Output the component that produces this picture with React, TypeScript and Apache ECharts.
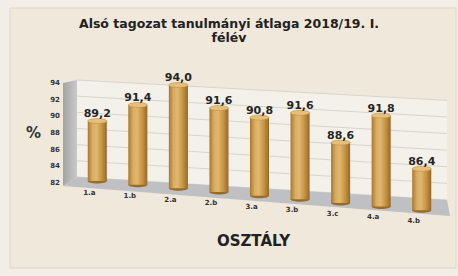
import React, { useEffect, useRef } from "react";
import * as echarts from "echarts";

const titleText = "Alsó tagozat tanulmányi átlaga 2018/19. I.\nfélév";
const categories = ["1.a", "1.b", "2.a", "2.b", "3.a", "3.b", "3.c", "4.a", "4.b"];
const values = [89.2, 91.4, 94.0, 91.6, 90.8, 91.6, 88.6, 91.8, 86.4];
const yTicks = [82, 84, 86, 88, 90, 92, 94];
const yName = "%";
const xName = "OSZTÁLY";

const FONT = "DejaVu Sans";
const Y_MIN = yTicks[0];
const Y_MAX = yTicks[yTicks.length - 1];

const fmt = (v: number) => v.toFixed(1).replace(".", ",");

export default function App() {
  const ref = useRef<HTMLDivElement>(null);
  useEffect(() => {
    if (!ref.current) return;
    const chart = echarts.init(ref.current, null, { renderer: "svg" });

    const rich: Record<string, any> = {};
    categories.forEach((_, i) => {
      rich["a" + i] = {
        fontSize: 7,
        fontWeight: "bold",
        color: "#333",
        fontFamily: FONT,
        padding: [3.5 * i, 16, 0, 0],
      };
    });

    const renderBackdrop = (params: any, api: any) => {
      const cs = params.coordSys;
      const x0 = cs.x;
      const x1 = cs.x + cs.width + 5;
      const topL = api.coord([0, Y_MAX])[1] - 3;
      const botL = api.coord([0, Y_MIN])[1] - 6;
      const topR = topL + 0.055 * (x1 - x0);
      const botR = botL + 0.062 * (x1 - x0);
      const children: any[] = [];
      children.push({
        type: "polygon",
        shape: { points: [[x0, topL], [x1, topR], [x1, botR], [x0, botL]] },
        style: { fill: "#f4f1eb" },
      });
      yTicks.forEach((t) => {
        const f = (t - Y_MIN) / (Y_MAX - Y_MIN);
        const yl = botL + (topL - botL) * f;
        const yr = botR + (topR - botR) * f;
        children.push({
          type: "line",
          shape: { x1: x0, y1: yl, x2: x1, y2: yr },
          style: { stroke: "#d8d5cf", lineWidth: 1 },
        });
      });
      children.push({
        type: "polygon",
        shape: { points: [[x0 - 14, topL + 3], [x0, topL], [x0, botL], [x0 - 14, botL + 9]] },
        style: {
          fill: {
            type: "linear", x: 0, y: 0, x2: 1, y2: 0,
            colorStops: [
              { offset: 0, color: "#a4a4a4" },
              { offset: 1, color: "#c9c9c9" },
            ],
          },
        },
      });
      children.push({
        type: "polygon",
        shape: { points: [[x0, botL], [x1, botR], [x1 + 3, botR + 16], [x0 - 14, botL + 9]] },
        style: { fill: "#bfc0c4" },
      });
      return { type: "group", children };
    };

    const renderBar = (params: any, api: any) => {
      const cs = params.coordSys;
      const i = api.value(0);
      const v = api.value(1);
      const p0 = api.coord([i, Y_MIN]);
      const p1 = api.coord([i, v]);
      const rel = p0[0] - (cs.x + 20);
      const baseY = p0[1] - 2 + 0.09 * rel;
      const scale = 1 + 0.0004 * rel;
      const h = (p0[1] - p1[1]) * scale;
      const w = api.size([1, 0])[0] * 0.47;
      const cx = p0[0];
      const topY = baseY - h;
      return {
        type: "group",
        children: [
          {
            type: "ellipse",
            shape: { cx, cy: baseY, rx: w / 2, ry: 2.5 },
            style: { fill: "#9a6a26" },
          },
          {
            type: "rect",
            shape: { x: cx - w / 2, y: topY, width: w, height: h },
            style: {
              fill: {
                type: "linear", x: 0, y: 0, x2: 1, y2: 0,
                colorStops: [
                  { offset: 0, color: "#a8782e" },
                  { offset: 0.25, color: "#d9ad62" },
                  { offset: 0.45, color: "#e0b870" },
                  { offset: 0.75, color: "#c4913f" },
                  { offset: 1, color: "#96672a" },
                ],
              },
            },
          },
          {
            type: "ellipse",
            shape: { cx, cy: topY, rx: w / 2, ry: 2.5 },
            style: { fill: "#e6c07a", stroke: "#b48640", lineWidth: 0.5 },
          },
          {
            type: "text",
            style: {
              text: fmt(v),
              x: cx,
              y: topY - 2,
              align: "center",
              verticalAlign: "bottom",
              fontSize: 11,
              fontWeight: "bold",
              fill: "#262626",
              fontFamily: FONT,
            },
          },
        ],
      };
    };

    chart.setOption({
      animation: false,
      backgroundColor: "#f2eee5",
      textStyle: { fontFamily: FONT },
      graphic: [
        {
          type: "rect",
          z: -10,
          shape: { x: 10, y: 8, width: 446, height: 260 },
          style: { fill: "#efe8db", stroke: "#ddd5c6", lineWidth: 1 },
        },
      ],
      title: {
        text: titleText,
        left: "center",
        top: 11,
        textStyle: {
          fontSize: 12.5,
          fontWeight: "bold",
          color: "#222",
          lineHeight: 14,
          fontFamily: FONT,
        },
      },
      grid: { left: 77, top: 83, width: 365, height: 100 },
      xAxis: {
        type: "category",
        data: categories,
        axisLine: { show: false },
        axisTick: { show: false },
        axisLabel: {
          margin: 6,
          interval: 0,
          formatter: (val: string, idx: number) => `{a${idx}|${val}}`,
          rich,
        },
        name: xName,
        nameLocation: "middle",
        nameGap: 50,
        nameTextStyle: {
          fontSize: 15,
          fontWeight: "bold",
          color: "#222",
          fontFamily: FONT,
          padding: [0, 12, 0, 0],
        },
      },
      yAxis: {
        type: "value",
        min: Y_MIN,
        max: Y_MAX,
        interval: 2,
        axisLine: { show: false },
        axisTick: { show: false },
        splitLine: { show: false },
        axisLabel: {
          fontSize: 7,
          fontWeight: "bold",
          color: "#333",
          margin: 17,
          fontFamily: FONT,
        },
        name: yName,
        nameLocation: "middle",
        nameRotate: 0,
        nameGap: 36,
        nameTextStyle: {
          fontSize: 15,
          fontWeight: "bold",
          color: "#333",
          fontFamily: FONT,
        },
      },
      series: [
        {
          type: "custom",
          z: 1,
          clip: false,
          silent: true,
          renderItem: renderBackdrop,
          data: [[0, Y_MIN]],
          encode: { x: 0, y: 1 },
        },
        {
          type: "custom",
          z: 3,
          clip: false,
          renderItem: renderBar,
          data: values.map((v, i) => [i, v]),
          encode: { x: 0, y: 1 },
        },
      ],
    });
    return () => chart.dispose();
  }, []);
  return (
    <div
      ref={ref}
      style={{ position: "fixed", left: 0, top: 0, width: 458, height: 276 }}
    />
  );
}
